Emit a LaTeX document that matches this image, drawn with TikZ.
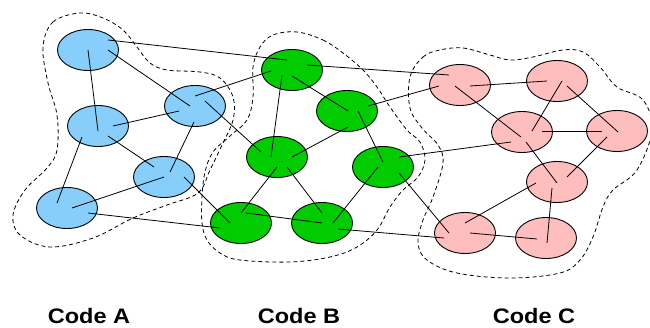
\documentclass[tikz,border=0pt]{standalone}
\usepackage{fontspec}
\setmainfont{Liberation Sans}
\usetikzlibrary{shapes.geometric,calc}
\definecolor{cA}{RGB}{135,206,250}
\definecolor{cB}{RGB}{0,204,0}
\definecolor{cC}{RGB}{255,190,190}
\begin{document}
\begin{tikzpicture}[x=1pt,y=-1pt,
  vtx/.style={ellipse,draw=black,line width=0.9pt,minimum width=61pt,minimum height=41pt,inner sep=0pt},
  va/.style={vtx,fill=cA}, vb/.style={vtx,fill=cB}, vc/.style={vtx,fill=cC},
  edge/.style={line width=0.8pt},
  hull/.style={dash pattern=on 4pt off 3pt,line width=0.8pt},
  lbl/.style={font=\bfseries\fontsize{21}{21}\selectfont,xscale=1.12,inner sep=0pt}]
\useasboundingbox (0,0) rectangle (650,327);
% contours
\draw[hull] plot[smooth cycle,tension=0.6] coordinates {(43,47) (53,22) (80,13) (103,18) (123,30) (137,47) (150,63) (167,70) (200,72) (220,78) (233,97) (233,120) (222,145) (210,170) (198,193) (167,205) (133,218) (93,238) (50,247) (20,235) (13,215) (25,190) (47,168) (57,150) (57,115) (48,83)};
\draw[hull] plot[smooth cycle,tension=0.6] coordinates {(297,32) (323,40) (343,53) (363,70) (377,87) (390,107) (407,130) (420,142) (425,160) (418,177) (403,190) (390,207) (377,230) (357,247) (330,257) (290,262) (240,260) (220,253) (207,240) (202,223) (202,197) (205,172) (213,152) (230,136) (247,120) (253,97) (253,67) (260,47) (273,35)};
\draw[hull] plot[smooth cycle,tension=0.6] coordinates {(410,77) (423,57) (440,50) (463,48) (490,55) (510,60) (533,57) (563,50) (583,52) (600,67) (617,87) (643,100) (652,130) (637,170) (613,190) (603,207) (593,237) (580,260) (560,273) (510,278) (457,273) (427,260) (418,243) (423,220) (433,197) (443,163) (438,145) (422,128) (410,108)};
% nodes
\node[va] (A1) at (88,50) {};
\node[va] (A2) at (195,106) {};
\node[va] (A3) at (98,126) {};
\node[va] (A4) at (164,177) {};
\node[va] (A5) at (67,208) {};
\node[vb] (B1) at (292,70) {};
\node[vb] (B2) at (347,111) {};
\node[vb] (B3) at (277,157) {};
\node[vb] (B4) at (383,167) {};
\node[vb] (B5) at (241,223) {};
\node[vb] (B6) at (322,223) {};
\node[vc] (C1) at (460,85) {};
\node[vc] (C2) at (557,81) {};
\node[vc] (C3) at (522,132) {};
\node[vc] (C4) at (617,131) {};
\node[vc] (C5) at (557,182) {};
\node[vc] (C6) at (465,233) {};
\node[vc] (C7) at (546,238) {};
% edges
\begin{scope}[edge]
\draw ($(A1)+(20,-10)$) -- ($(B1)+(-5,-10)$);
\draw ($(A1)+(20,0)$) -- ($(A2)+(-5,0)$);
\draw ($(A1)+(0,0)$) -- ($(A3)+(0,5)$);
\draw ($(A3)+(15,0)$) -- ($(A2)+(-16,5)$);
\draw ($(A2)+(0,-10)$) -- ($(B1)+(-21,1)$);
\draw ($(A2)+(10,-5)$) -- ($(B3)+(-16,-5)$);
\draw ($(A3)+(10,10)$) -- ($(A4)+(-10,-10)$);
\draw ($(A3)+(-16,11)$) -- ($(A5)+(-10,-5)$);
\draw ($(A4)+(6,-5)$) -- ($(A2)+(-1,16)$);
\draw ($(A5)+(5,0)$) -- ($(A4)+(0,0)$);
\draw ($(A4)+(20,0)$) -- ($(B5)+(-11,0)$);
\draw ($(A5)+(21,5)$) -- ($(B5)+(-21,5)$);
\draw ($(B1)+(15,-5)$) -- ($(C1)+(-11,-10)$);
\draw ($(B1)+(-10,5)$) -- ($(B3)+(-6,0)$);
\draw ($(B1)+(0,6)$) -- ($(B2)+(1,0)$);
\draw ($(B2)+(21,-5)$) -- ($(C1)+(-21,1)$);
\draw ($(B2)+(1,16)$) -- ($(B3)+(15,0)$);
\draw ($(B2)+(11,0)$) -- ($(B4)+(0,-5)$);
\draw ($(B3)+(0,10)$) -- ($(B5)+(0,-10)$);
\draw ($(B3)+(10,10)$) -- ($(B6)+(0,-10)$);
\draw ($(B5)+(5,-10)$) -- ($(B6)+(0,0)$);
\draw ($(B4)+(-5,0)$) -- ($(B6)+(11,0)$);
\draw ($(B4)+(16,-10)$) -- ($(C3)+(-11,10)$);
\draw ($(B4)+(16,6)$) -- ($(C6)+(-16,0)$);
\draw ($(B6)+(16,6)$) -- ($(C6)+(-21,5)$);
\draw ($(C1)+(10,1)$) -- ($(C2)+(-10,0)$);
\draw ($(C1)+(-5,1)$) -- ($(C3)+(-1,5)$);
\draw ($(C2)+(5,0)$) -- ($(C3)+(10,-1)$);
\draw ($(C2)+(10,5)$) -- ($(C4)+(1,1)$);
\draw ($(C3)+(20,-1)$) -- ($(C4)+(-15,0)$);
\draw ($(C3)+(4,10)$) -- ($(C5)+(0,1)$);
\draw ($(C4)+(-10,6)$) -- ($(C5)+(10,-5)$);
\draw ($(C5)+(-21,1)$) -- ($(C6)+(0,-10)$);
\draw ($(C5)+(-5,6)$) -- ($(C7)+(1,5)$);
\draw ($(C6)+(5,0)$) -- ($(C7)+(-9,1)$);
\end{scope}
% labels
\node[lbl] (LA) at (89,316) {Code A};
\node[lbl] (LB) at (299,316) {Code B};
\node[lbl] (LC) at (534,316) {Code C};
\end{tikzpicture}
\end{document}
